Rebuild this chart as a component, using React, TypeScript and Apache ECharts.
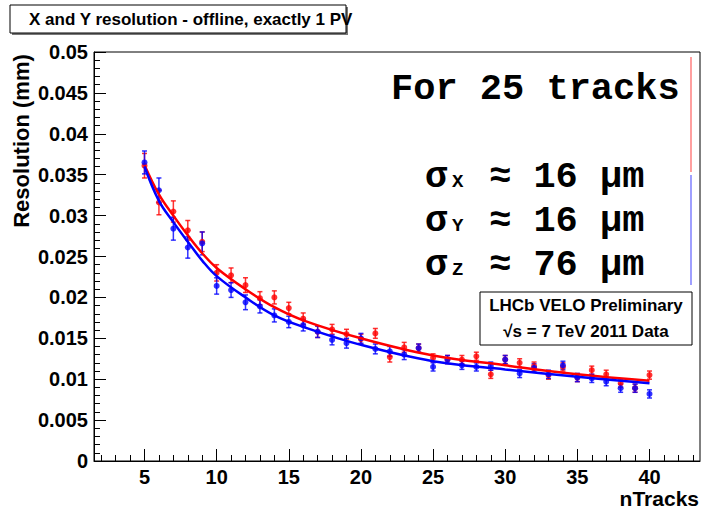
import React, { useEffect, useRef } from "react";
import * as echarts from "echarts";

const nTracks = [5, 6, 7, 8, 9, 10, 11, 12, 13, 14, 15, 16, 17, 18, 19, 20, 21, 22, 23, 24, 25, 26, 27, 28, 29, 30, 31, 32, 33, 34, 35, 36, 37, 38, 39, 40];

const resX = [0.0361, 0.0316, 0.0305, 0.0282, 0.0268, 0.0230, 0.0227, 0.0215, 0.0199, 0.0200, 0.0187, 0.0174, 0.0158, 0.0161, 0.0155, 0.0149, 0.0156, 0.0127, 0.0139, 0.0138, 0.0126, 0.0124, 0.0124, 0.0128, 0.0106, 0.0124, 0.0120, 0.0116, 0.0105, 0.0115, 0.0102, 0.0111, 0.0106, 0.0095, 0.0089, 0.0105];
const errX = [0.0015, 0.0015, 0.0013, 0.0012, 0.0012, 0.0010, 0.0009, 0.0009, 0.0008, 0.0008, 0.0007, 0.0007, 0.0007, 0.0006, 0.0006, 0.0006, 0.0006, 0.0006, 0.0006, 0.0005, 0.0005, 0.0005, 0.0005, 0.0005, 0.0005, 0.0005, 0.0005, 0.0005, 0.0005, 0.0005, 0.0005, 0.0005, 0.0005, 0.0005, 0.0005, 0.0005];

const resY = [0.0365, 0.0331, 0.0284, 0.0261, 0.0266, 0.0214, 0.0209, 0.0194, 0.0189, 0.0178, 0.0170, 0.0166, 0.0158, 0.0148, 0.0144, 0.0150, 0.0137, 0.0134, 0.0130, 0.0138, 0.0115, 0.0124, 0.0117, 0.0115, 0.0116, 0.0124, 0.0107, 0.0114, 0.0106, 0.0117, 0.0102, 0.0101, 0.0097, 0.0089, 0.0089, 0.0082];
const errY = [0.0014, 0.0015, 0.0014, 0.0013, 0.0014, 0.0010, 0.0009, 0.0009, 0.0008, 0.0008, 0.0007, 0.0007, 0.0007, 0.0006, 0.0006, 0.0006, 0.0006, 0.0006, 0.0006, 0.0005, 0.0005, 0.0005, 0.0005, 0.0005, 0.0005, 0.0005, 0.0005, 0.0005, 0.0005, 0.0005, 0.0005, 0.0005, 0.0005, 0.0005, 0.0005, 0.0005];

const fitN = [5, 6, 7, 8, 9, 10, 12, 14, 16, 20, 25, 30, 35, 40];
const fitX = [0.0362, 0.0326, 0.0300, 0.0276, 0.0254, 0.0236, 0.0210, 0.0188, 0.0172, 0.0150, 0.0129, 0.0117, 0.0106, 0.0098];
const fitY = [0.0360, 0.0318, 0.0292, 0.0268, 0.0245, 0.0226, 0.0200, 0.0178, 0.0164, 0.0142, 0.0122, 0.0112, 0.0103, 0.0095];

const xMajorTicks = [5, 10, 15, 20, 25, 30, 35, 40];
const xMinorTicks = [2, 3, 4, 5, 6, 7, 8, 9, 10, 11, 12, 13, 14, 15, 16, 17, 18, 19, 20, 21, 22, 23, 24, 25, 26, 27, 28, 29, 30, 31, 32, 33, 34, 35, 36, 37, 38, 39, 40, 41, 42, 43];

const titleText = "X and Y resolution - offline, exactly 1 PV";
const yTitle = "Resolution (mm)";
const xTitle = "nTracks";
const headline = "For 25 tracks";
const sigmaLines = [
  { sub: "X", rest: "≈ 16 μm" },
  { sub: "Y", rest: "≈ 16 μm" },
  { sub: "Z", rest: "≈ 76 μm" },
];
const lhcbLines = ["LHCb VELO Preliminary", "√s = 7 TeV 2011 Data"];

const RED = "#ff0000";
const BLUE = "#0000ff";
const SANS = "'Liberation Sans', Arial, Helvetica, sans-serif";
const MONO = "'Liberation Mono', 'Courier New', monospace";

function errorSeries(vals: number[], errs: number[], color: string) {
  return {
    type: "custom",
    xAxisIndex: 0,
    yAxisIndex: 0,
    silent: true,
    data: nTracks.map((n, i) => [n, vals[i] - errs[i], vals[i] + errs[i]]),
    renderItem: (_params: any, api: any) => {
      const x = api.value(0);
      const lo = api.coord([x, api.value(1)]);
      const hi = api.coord([x, api.value(2)]);
      const w = 2.5;
      const style = { stroke: color, lineWidth: 1.5, opacity: 0.8 };
      return {
        type: "group",
        children: [
          { type: "line", shape: { x1: lo[0], y1: lo[1], x2: hi[0], y2: hi[1] }, style },
          { type: "line", shape: { x1: lo[0] - w, y1: lo[1], x2: lo[0] + w, y2: lo[1] }, style },
          { type: "line", shape: { x1: hi[0] - w, y1: hi[1], x2: hi[0] + w, y2: hi[1] }, style },
        ],
      };
    },
  };
}

export default function App() {
  const ref = useRef<HTMLDivElement>(null);
  useEffect(() => {
    if (!ref.current) return;
    const chart = echarts.init(ref.current, null, { renderer: "svg" });
    const graphics: any[] = [
      { type: "rect", shape: { x: 12, y: 7, width: 336, height: 28 }, style: { fill: "#777" }, z: 100 },
      { type: "rect", shape: { x: 10, y: 5, width: 336, height: 28 }, style: { fill: "#fff", stroke: "#000", lineWidth: 1 }, z: 101 },
      {
        type: "text", x: 29, y: 19.5, z: 102,
        style: { text: titleText, font: `bold 17px ${SANS}`, fill: "#000", textAlign: "left", textVerticalAlign: "middle" },
      },
      {
        type: "text", x: 21, y: 141, rotation: Math.PI / 2, z: 102,
        style: { text: yTitle, font: `bold 22px ${SANS}`, fill: "#000", textAlign: "center", textVerticalAlign: "middle" },
      },
      {
        type: "text", x: 699, y: 498, z: 102,
        style: { text: xTitle, font: `bold 21px ${SANS}`, fill: "#000", textAlign: "right", textVerticalAlign: "middle" },
      },
      {
        type: "text", x: 391, y: 89, z: 102,
        style: { text: headline, font: `bold 37px ${MONO}`, fill: "#000", textAlign: "left", textVerticalAlign: "middle" },
      },
      { type: "line", shape: { x1: 691, y1: 57, x2: 691, y2: 172 }, style: { stroke: "#ff6060", lineWidth: 1.2 }, z: 102 },
      { type: "line", shape: { x1: 691, y1: 175, x2: 691, y2: 285 }, style: { stroke: "#6060ff", lineWidth: 1.2 }, z: 102 },
      { type: "rect", shape: { x: 480, y: 292, width: 212, height: 53 }, style: { fill: "#fff", stroke: "#000", lineWidth: 1 }, z: 101 },
    ];
    sigmaLines.forEach((s, i) => {
      const cy = 177 + i * 44;
      graphics.push(
        { type: "text", x: 425, y: cy, z: 102, style: { text: "σ", font: `bold 37px ${MONO}`, fill: "#000", textAlign: "left", textVerticalAlign: "middle" } },
        { type: "text", x: 452, y: cy + 5, z: 102, style: { text: s.sub, font: `bold 19px ${MONO}`, fill: "#000", textAlign: "left", textVerticalAlign: "middle" } },
        { type: "text", x: 489, y: cy, z: 102, style: { text: s.rest, font: `bold 37px ${MONO}`, fill: "#000", textAlign: "left", textVerticalAlign: "middle" } },
      );
    });
    lhcbLines.forEach((t, i) => {
      graphics.push({
        type: "text", x: 586, y: 305 + i * 26, z: 102,
        style: { text: t, font: `bold 17px ${SANS}`, fill: "#000", textAlign: "center", textVerticalAlign: "middle" },
      });
    });

    chart.setOption({
      animation: false,
      backgroundColor: "#fff",
      grid: { left: 94, right: 2, top: 52, bottom: 55, show: true, borderColor: "#000", borderWidth: 1, backgroundColor: "transparent" },
      xAxis: [
        {
          type: "value", min: 1.5, max: 43.5, position: "bottom",
          axisLine: { show: true, lineStyle: { color: "#000", width: 1 } },
          axisTick: { show: true, inside: true, length: 12, customValues: xMajorTicks, lineStyle: { color: "#000" } },
          axisLabel: { show: true, customValues: xMajorTicks, margin: 6, color: "#000", fontFamily: SANS, fontWeight: "bold", fontSize: 20 },
          splitLine: { show: false },
        },
        {
          type: "value", min: 1.5, max: 43.5, position: "bottom",
          axisLine: { show: false },
          axisTick: { show: true, inside: true, length: 6, customValues: xMinorTicks, lineStyle: { color: "#000" } },
          axisLabel: { show: false },
          splitLine: { show: false },
        },
      ],
      yAxis: {
        type: "value", min: 0, max: 0.05, interval: 0.005,
        axisLine: { show: true, lineStyle: { color: "#000", width: 1 } },
        axisTick: { show: true, inside: true, length: 12, lineStyle: { color: "#000" } },
        minorTick: { show: true, splitNumber: 5, length: 6, lineStyle: { color: "#000" } },
        axisLabel: { margin: 6, color: "#000", fontFamily: SANS, fontWeight: "bold", fontSize: 20 },
        splitLine: { show: false },
        minorSplitLine: { show: false },
      },
      graphic: graphics,
      series: [
        errorSeries(resX, errX, RED),
        {
          type: "line", data: fitN.map((n, i) => [n, fitX[i]]), smooth: 0.4, showSymbol: false, symbol: "none",
          lineStyle: { color: RED, width: 2.5 }, silent: true,
        },
        {
          type: "scatter", data: nTracks.map((n, i) => [n, resX[i]]), symbol: "circle", symbolSize: 6,
          itemStyle: { color: RED }, silent: true,
        },
        errorSeries(resY, errY, BLUE),
        {
          type: "line", data: fitN.map((n, i) => [n, fitY[i]]), smooth: 0.4, showSymbol: false, symbol: "none",
          lineStyle: { color: BLUE, width: 2.5 }, silent: true,
        },
        {
          type: "scatter", data: nTracks.map((n, i) => [n, resY[i]]), symbol: "circle", symbolSize: 6,
          itemStyle: { color: BLUE }, silent: true,
        },
      ],
    });
    return () => chart.dispose();
  }, []);
  return <div ref={ref} style={{ position: "fixed", left: 0, top: 0, width: 702, height: 516 }} />;
}
